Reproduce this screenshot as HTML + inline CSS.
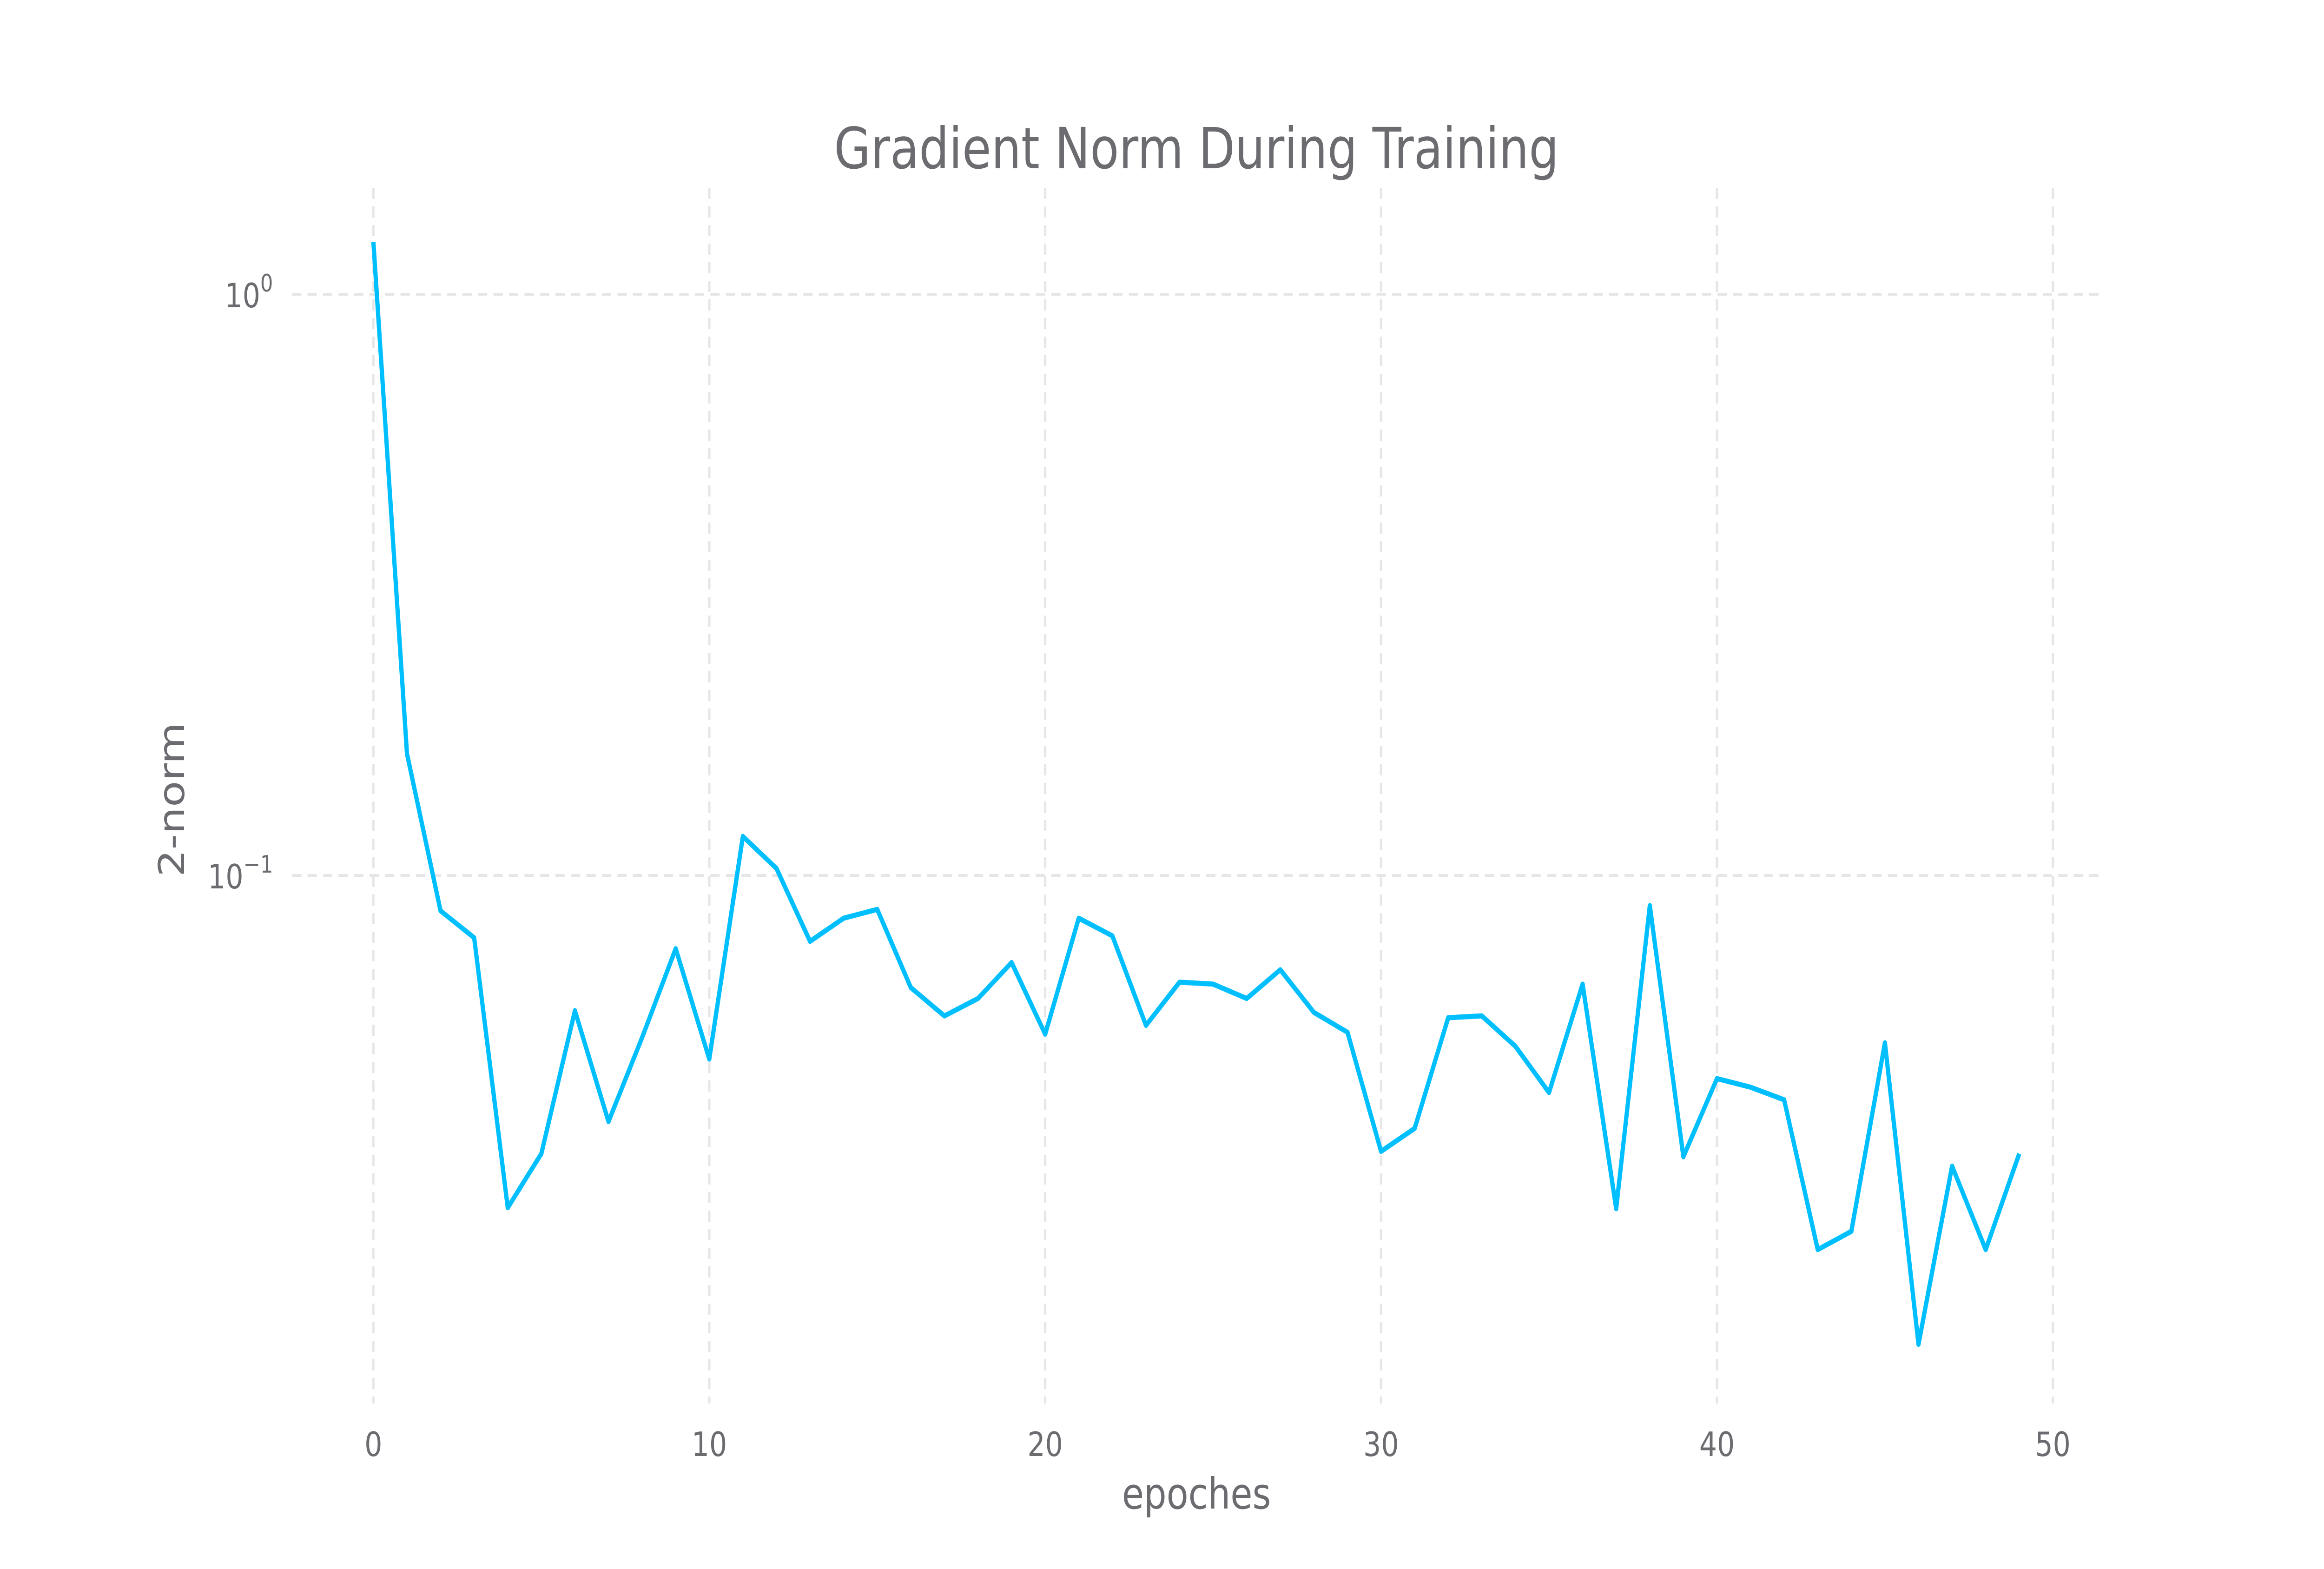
<!DOCTYPE html>
<html><head><meta charset="utf-8"><style>
html,body{margin:0;padding:0;background:#fff;overflow:hidden;width:100%;height:100%;}
svg{display:block;width:100vw;height:100vh;}
text{font-family:"DejaVu Sans","Liberation Sans",sans-serif;fill:#6b6b70;}
</style></head><body>
<svg id="chart" viewBox="0 0 6000 3375" preserveAspectRatio="none" xmlns="http://www.w3.org/2000/svg">
<rect width="6000" height="3375" fill="#fff"/>
<g id="grid"></g>
<g id="ticks"></g>
<g id="series"></g>
<text x="3089" y="362" font-size="122" text-anchor="middle">Gradient Norm During Training</text>
<text x="3089" y="3245" font-size="92" text-anchor="middle">epoches</text>
<text x="475" y="1720" font-size="92" text-anchor="middle" transform="rotate(-90 475 1720)">2-norm</text>
</svg>
<script>
const epochs = [0,1,2,3,4,5,6,7,8,9,10,11,12,13,14,15,16,17,18,19,20,21,22,23,24,25,26,27,28,29,30,31,32,33,34,35,36,37,38,39,40,41,42,43,44,45,46,47,48,49];
const gradNorm = [1.23,0.162,0.0869,0.0781,0.0268,0.0332,0.0585,0.0377,0.0526,0.0748,0.0483,0.1167,0.1028,0.0770,0.0844,0.0874,0.0641,0.0573,0.0614,0.0708,0.0533,0.0844,0.0787,0.0552,0.0655,0.0650,0.0614,0.0688,0.0581,0.0537,0.0335,0.0367,0.0569,0.0573,0.0508,0.0423,0.0650,0.0267,0.0887,0.0328,0.0447,0.0432,0.0411,0.0227,0.0244,0.0515,0.0156,0.0316,0.0227,0.0332];
const xTicks = [0,10,20,30,40,50];
const yTickExps = [0,-1];
const yTickLabels = ["0","\u22121"];

const NS="http://www.w3.org/2000/svg";
const x0=964, x50=5300, yE0=633, yEm1=1883;
function xs(v){return x0+(x50-x0)*v/50;}
function ys(v){return yE0+(yE0-yEm1)*Math.log10(v);}
function mk(tag,attrs,parent){const e=document.createElementNS(NS,tag);for(const k in attrs)e.setAttribute(k,attrs[k]);parent.appendChild(e);return e;}
const grid=document.getElementById('grid'), ticks=document.getElementById('ticks'), series=document.getElementById('series');
xTicks.forEach(t=>{
  const l=mk('line',{x1:xs(t),x2:xs(t),y1:404,y2:3019,stroke:'#e6e6e6','stroke-width':6,'stroke-dasharray':'24 16'},grid);
  
  
  const tx=mk('text',{x:xs(t),y:3132,'font-size':72,'text-anchor':'middle'},ticks);
  tx.textContent=t;
  
  
});
yTickExps.forEach((e,i)=>{
  const y=ys(Math.pow(10,e));
  const l=mk('line',{x1:754,x2:5423,y1:y,y2:y,stroke:'#e6e6e6','stroke-width':6,'stroke-dasharray':'24 16'},grid);
  
  
  const tx=mk('text',{x:705,y:y+28,'font-size':72,'text-anchor':'end'},ticks);
  
  
  tx.appendChild(document.createTextNode('10'));
  const sp=mk('tspan',{dy:-34,'font-size':52},tx);
  sp.textContent=yTickLabels[i];
});
const pts=epochs.map((e,i)=>xs(e).toFixed(1)+','+ys(gradNorm[i]).toFixed(1)).join(' ');
const pl=mk('polyline',{points:pts,fill:'none',stroke:'#00bfff','stroke-width':11,'stroke-linejoin':'round'},series);


</script>
</body></html>
